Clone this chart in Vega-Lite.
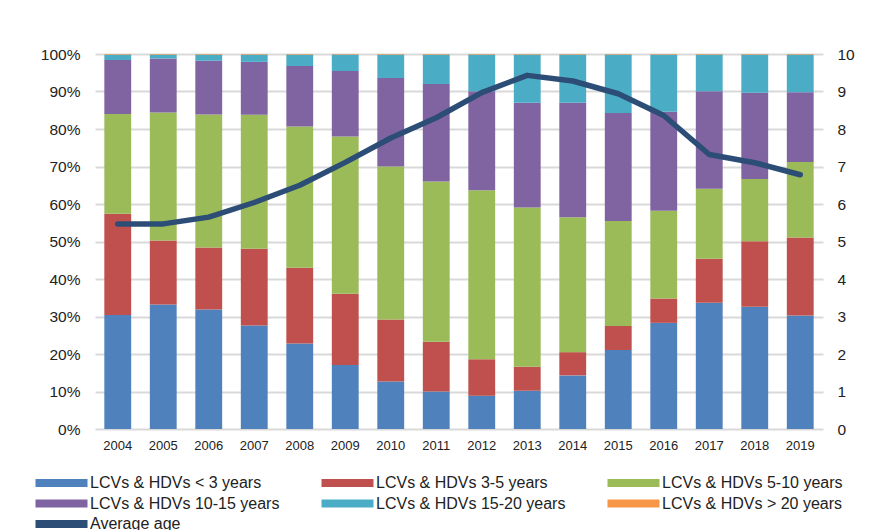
{
  "$schema": "https://vega.github.io/schema/vega-lite/v6.json",
  "width": 728,
  "height": 375,
  "autosize": {"type": "none"},
  "padding": {"left": 95, "top": 54, "right": 66, "bottom": 101},
  "background": "white",
  "config": {
    "font": "Liberation Sans",
    "view": {"stroke": null},
    "axis": {"labelColor": "#222222", "labelFont": "Liberation Sans"},
    "legend": {"labelFont": "Liberation Sans", "labelColor": "#222222"}
  },
  "datasets": {
    "shares": [
      {"year": "2004", "series": "LCVs & HDVs < 3 years", "k": 1, "v": 30.4},
      {"year": "2004", "series": "LCVs & HDVs 3-5 years", "k": 2, "v": 27.0},
      {"year": "2004", "series": "LCVs & HDVs 5-10 years", "k": 3, "v": 26.6},
      {"year": "2004", "series": "LCVs & HDVs 10-15 years", "k": 4, "v": 14.4},
      {"year": "2004", "series": "LCVs & HDVs 15-20 years", "k": 5, "v": 1.45},
      {"year": "2004", "series": "LCVs & HDVs >  20 years", "k": 6, "v": 0.15},
      {"year": "2005", "series": "LCVs & HDVs < 3 years", "k": 1, "v": 33.2},
      {"year": "2005", "series": "LCVs & HDVs 3-5 years", "k": 2, "v": 17.1},
      {"year": "2005", "series": "LCVs & HDVs 5-10 years", "k": 3, "v": 34.1},
      {"year": "2005", "series": "LCVs & HDVs 10-15 years", "k": 4, "v": 14.4},
      {"year": "2005", "series": "LCVs & HDVs 15-20 years", "k": 5, "v": 1.05},
      {"year": "2005", "series": "LCVs & HDVs >  20 years", "k": 6, "v": 0.15},
      {"year": "2006", "series": "LCVs & HDVs < 3 years", "k": 1, "v": 31.9},
      {"year": "2006", "series": "LCVs & HDVs 3-5 years", "k": 2, "v": 16.5},
      {"year": "2006", "series": "LCVs & HDVs 5-10 years", "k": 3, "v": 35.5},
      {"year": "2006", "series": "LCVs & HDVs 10-15 years", "k": 4, "v": 14.3},
      {"year": "2006", "series": "LCVs & HDVs 15-20 years", "k": 5, "v": 1.65},
      {"year": "2006", "series": "LCVs & HDVs >  20 years", "k": 6, "v": 0.15},
      {"year": "2007", "series": "LCVs & HDVs < 3 years", "k": 1, "v": 27.6},
      {"year": "2007", "series": "LCVs & HDVs 3-5 years", "k": 2, "v": 20.5},
      {"year": "2007", "series": "LCVs & HDVs 5-10 years", "k": 3, "v": 35.7},
      {"year": "2007", "series": "LCVs & HDVs 10-15 years", "k": 4, "v": 14.1},
      {"year": "2007", "series": "LCVs & HDVs 15-20 years", "k": 5, "v": 1.95},
      {"year": "2007", "series": "LCVs & HDVs >  20 years", "k": 6, "v": 0.15},
      {"year": "2008", "series": "LCVs & HDVs < 3 years", "k": 1, "v": 22.8},
      {"year": "2008", "series": "LCVs & HDVs 3-5 years", "k": 2, "v": 20.2},
      {"year": "2008", "series": "LCVs & HDVs 5-10 years", "k": 3, "v": 37.7},
      {"year": "2008", "series": "LCVs & HDVs 10-15 years", "k": 4, "v": 16.1},
      {"year": "2008", "series": "LCVs & HDVs 15-20 years", "k": 5, "v": 3.05},
      {"year": "2008", "series": "LCVs & HDVs >  20 years", "k": 6, "v": 0.15},
      {"year": "2009", "series": "LCVs & HDVs < 3 years", "k": 1, "v": 17.1},
      {"year": "2009", "series": "LCVs & HDVs 3-5 years", "k": 2, "v": 19.0},
      {"year": "2009", "series": "LCVs & HDVs 5-10 years", "k": 3, "v": 41.9},
      {"year": "2009", "series": "LCVs & HDVs 10-15 years", "k": 4, "v": 17.5},
      {"year": "2009", "series": "LCVs & HDVs 15-20 years", "k": 5, "v": 4.35},
      {"year": "2009", "series": "LCVs & HDVs >  20 years", "k": 6, "v": 0.15},
      {"year": "2010", "series": "LCVs & HDVs < 3 years", "k": 1, "v": 12.7},
      {"year": "2010", "series": "LCVs & HDVs 3-5 years", "k": 2, "v": 16.5},
      {"year": "2010", "series": "LCVs & HDVs 5-10 years", "k": 3, "v": 40.8},
      {"year": "2010", "series": "LCVs & HDVs 10-15 years", "k": 4, "v": 23.6},
      {"year": "2010", "series": "LCVs & HDVs 15-20 years", "k": 5, "v": 6.25},
      {"year": "2010", "series": "LCVs & HDVs >  20 years", "k": 6, "v": 0.15},
      {"year": "2011", "series": "LCVs & HDVs < 3 years", "k": 1, "v": 10.0},
      {"year": "2011", "series": "LCVs & HDVs 3-5 years", "k": 2, "v": 13.3},
      {"year": "2011", "series": "LCVs & HDVs 5-10 years", "k": 3, "v": 42.7},
      {"year": "2011", "series": "LCVs & HDVs 10-15 years", "k": 4, "v": 26.0},
      {"year": "2011", "series": "LCVs & HDVs 15-20 years", "k": 5, "v": 7.85},
      {"year": "2011", "series": "LCVs & HDVs >  20 years", "k": 6, "v": 0.15},
      {"year": "2012", "series": "LCVs & HDVs < 3 years", "k": 1, "v": 8.9},
      {"year": "2012", "series": "LCVs & HDVs 3-5 years", "k": 2, "v": 9.7},
      {"year": "2012", "series": "LCVs & HDVs 5-10 years", "k": 3, "v": 45.1},
      {"year": "2012", "series": "LCVs & HDVs 10-15 years", "k": 4, "v": 26.4},
      {"year": "2012", "series": "LCVs & HDVs 15-20 years", "k": 5, "v": 9.75},
      {"year": "2012", "series": "LCVs & HDVs >  20 years", "k": 6, "v": 0.15},
      {"year": "2013", "series": "LCVs & HDVs < 3 years", "k": 1, "v": 10.2},
      {"year": "2013", "series": "LCVs & HDVs 3-5 years", "k": 2, "v": 6.4},
      {"year": "2013", "series": "LCVs & HDVs 5-10 years", "k": 3, "v": 42.5},
      {"year": "2013", "series": "LCVs & HDVs 10-15 years", "k": 4, "v": 27.9},
      {"year": "2013", "series": "LCVs & HDVs 15-20 years", "k": 5, "v": 12.85},
      {"year": "2013", "series": "LCVs & HDVs >  20 years", "k": 6, "v": 0.15},
      {"year": "2014", "series": "LCVs & HDVs < 3 years", "k": 1, "v": 14.3},
      {"year": "2014", "series": "LCVs & HDVs 3-5 years", "k": 2, "v": 6.2},
      {"year": "2014", "series": "LCVs & HDVs 5-10 years", "k": 3, "v": 36.0},
      {"year": "2014", "series": "LCVs & HDVs 10-15 years", "k": 4, "v": 30.5},
      {"year": "2014", "series": "LCVs & HDVs 15-20 years", "k": 5, "v": 12.85},
      {"year": "2014", "series": "LCVs & HDVs >  20 years", "k": 6, "v": 0.15},
      {"year": "2015", "series": "LCVs & HDVs < 3 years", "k": 1, "v": 21.1},
      {"year": "2015", "series": "LCVs & HDVs 3-5 years", "k": 2, "v": 6.4},
      {"year": "2015", "series": "LCVs & HDVs 5-10 years", "k": 3, "v": 28.0},
      {"year": "2015", "series": "LCVs & HDVs 10-15 years", "k": 4, "v": 28.8},
      {"year": "2015", "series": "LCVs & HDVs 15-20 years", "k": 5, "v": 15.55},
      {"year": "2015", "series": "LCVs & HDVs >  20 years", "k": 6, "v": 0.15},
      {"year": "2016", "series": "LCVs & HDVs < 3 years", "k": 1, "v": 28.3},
      {"year": "2016", "series": "LCVs & HDVs 3-5 years", "k": 2, "v": 6.5},
      {"year": "2016", "series": "LCVs & HDVs 5-10 years", "k": 3, "v": 23.4},
      {"year": "2016", "series": "LCVs & HDVs 10-15 years", "k": 4, "v": 26.4},
      {"year": "2016", "series": "LCVs & HDVs 15-20 years", "k": 5, "v": 15.25},
      {"year": "2016", "series": "LCVs & HDVs >  20 years", "k": 6, "v": 0.15},
      {"year": "2017", "series": "LCVs & HDVs < 3 years", "k": 1, "v": 33.7},
      {"year": "2017", "series": "LCVs & HDVs 3-5 years", "k": 2, "v": 11.7},
      {"year": "2017", "series": "LCVs & HDVs 5-10 years", "k": 3, "v": 18.7},
      {"year": "2017", "series": "LCVs & HDVs 10-15 years", "k": 4, "v": 26.0},
      {"year": "2017", "series": "LCVs & HDVs 15-20 years", "k": 5, "v": 9.75},
      {"year": "2017", "series": "LCVs & HDVs >  20 years", "k": 6, "v": 0.15},
      {"year": "2018", "series": "LCVs & HDVs < 3 years", "k": 1, "v": 32.6},
      {"year": "2018", "series": "LCVs & HDVs 3-5 years", "k": 2, "v": 17.5},
      {"year": "2018", "series": "LCVs & HDVs 5-10 years", "k": 3, "v": 16.6},
      {"year": "2018", "series": "LCVs & HDVs 10-15 years", "k": 4, "v": 23.0},
      {"year": "2018", "series": "LCVs & HDVs 15-20 years", "k": 5, "v": 10.15},
      {"year": "2018", "series": "LCVs & HDVs >  20 years", "k": 6, "v": 0.15},
      {"year": "2019", "series": "LCVs & HDVs < 3 years", "k": 1, "v": 30.3},
      {"year": "2019", "series": "LCVs & HDVs 3-5 years", "k": 2, "v": 20.8},
      {"year": "2019", "series": "LCVs & HDVs 5-10 years", "k": 3, "v": 20.1},
      {"year": "2019", "series": "LCVs & HDVs 10-15 years", "k": 4, "v": 18.6},
      {"year": "2019", "series": "LCVs & HDVs 15-20 years", "k": 5, "v": 10.05},
      {"year": "2019", "series": "LCVs & HDVs >  20 years", "k": 6, "v": 0.15}
    ],
    "age": [
      {"year": "2004", "age": 5.47},
      {"year": "2005", "age": 5.47},
      {"year": "2006", "age": 5.65},
      {"year": "2007", "age": 6.04},
      {"year": "2008", "age": 6.5},
      {"year": "2009", "age": 7.11},
      {"year": "2010", "age": 7.76},
      {"year": "2011", "age": 8.3},
      {"year": "2012", "age": 8.97},
      {"year": "2013", "age": 9.43},
      {"year": "2014", "age": 9.28},
      {"year": "2015", "age": 8.94},
      {"year": "2016", "age": 8.36},
      {"year": "2017", "age": 7.32},
      {"year": "2018", "age": 7.1},
      {"year": "2019", "age": 6.78}
    ]
  },
  "encoding": {
    "x": {
      "field": "year",
      "type": "ordinal",
      "scale": {"paddingInner": 0.41, "paddingOuter": 0.205},
      "axis": {
        "title": null,
        "labelAngle": 0,
        "ticks": false,
        "domain": false,
        "labelFontSize": 13,
        "labelPadding": 10
      }
    }
  },
  "layer": [
    {
      "data": {"name": "shares"},
      "mark": {"type": "bar"},
      "encoding": {
        "y": {
          "field": "v",
          "type": "quantitative",
          "stack": "zero",
          "scale": {"domain": [0, 100], "nice": false},
          "axis": {
            "title": null,
            "values": [0, 10, 20, 30, 40, 50, 60, 70, 80, 90, 100],
            "labelExpr": "datum.value + '%'",
            "ticks": false,
            "domain": false,
            "grid": true,
            "gridColor": "#d9d9d9",
            "gridWidth": 1.8,
            "labelFontSize": 15.5,
            "labelPadding": 15
          }
        },
        "order": {"field": "k", "type": "quantitative", "sort": "ascending"},
        "color": {
          "field": "series",
          "type": "nominal",
          "scale": {
            "domain": [
              "LCVs & HDVs < 3 years",
              "LCVs & HDVs 3-5 years",
              "LCVs & HDVs 5-10 years",
              "LCVs & HDVs 10-15 years",
              "LCVs & HDVs 15-20 years",
              "LCVs & HDVs >  20 years",
              "Average age"
            ],
            "range": ["#4F81BD", "#C0504D", "#9BBB59", "#8064A2", "#4BACC6", "#F79646", "#2C4D75"]
          },
          "legend": {
            "title": null,
            "orient": "none",
            "legendX": -41.5,
            "legendY": 421,
            "direction": "horizontal",
            "columns": 3,
            "symbolType": "M-4,-0.6H4V0.6H-4Z",
            "symbolSize": 169,
            "symbolStrokeWidth": 0,
            "labelFontSize": 16,
            "labelLimit": 400,
            "labelOffset": 20.5,
            "columnPadding": 42,
            "rowPadding": 4.5
          }
        }
      }
    },
    {
      "data": {"name": "age"},
      "mark": {"type": "line", "strokeWidth": 5.5, "strokeCap": "round", "strokeJoin": "round"},
      "encoding": {
        "y": {
          "field": "age",
          "type": "quantitative",
          "scale": {"domain": [0, 10], "nice": false},
          "axis": {
            "title": null,
            "orient": "right",
            "values": [0, 1, 2, 3, 4, 5, 6, 7, 8, 9, 10],
            "ticks": false,
            "domain": false,
            "grid": false,
            "labelFontSize": 15.5,
            "labelPadding": 14
          }
        },
        "color": {"datum": "Average age"}
      }
    }
  ],
  "resolve": {"scale": {"y": "independent"}}
}
